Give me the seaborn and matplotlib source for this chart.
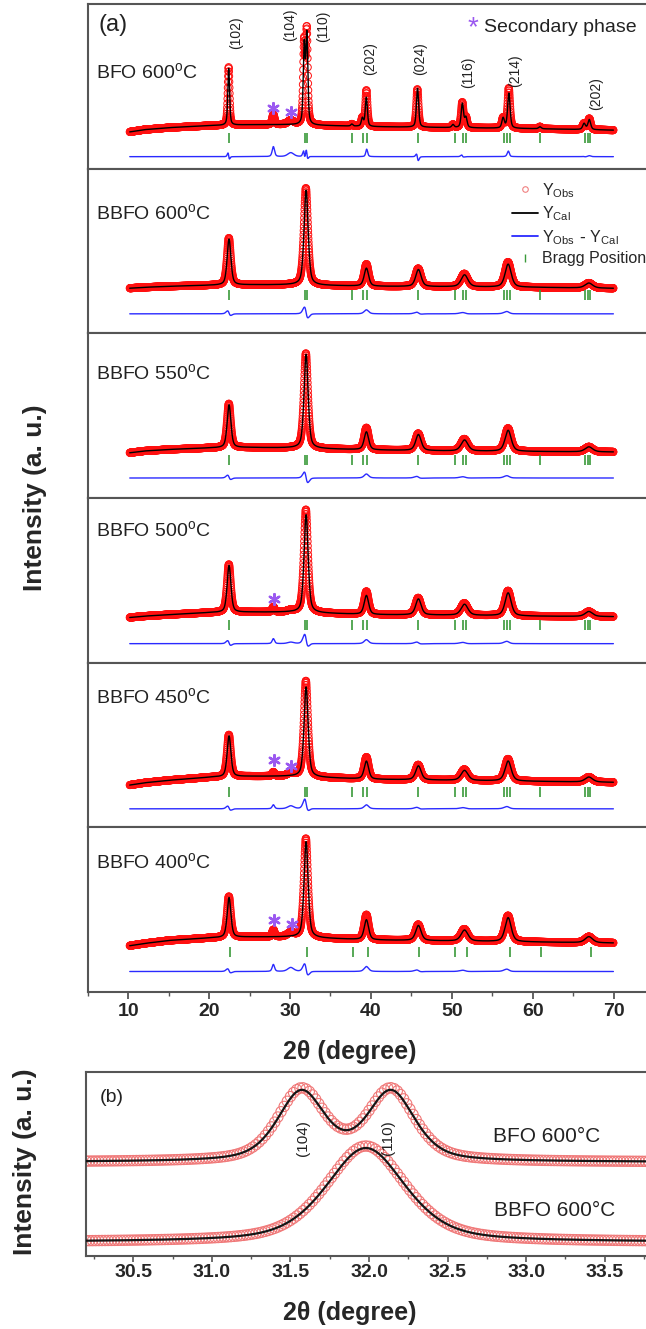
import numpy as np
import matplotlib
matplotlib.use("Agg")
import matplotlib.pyplot as plt
import seaborn as sns
from matplotlib.lines import Line2D
from matplotlib.ticker import MultipleLocator, NullLocator

# ---------------- data ----------------
SAMPLE_LABELS = ["BFO 600", "BBFO 600", "BBFO 550", "BBFO 500", "BBFO 450", "BBFO 400"]

# background knots (2theta) and levels (a.u.) of every pattern
BG_X = [10, 12, 15, 20, 25, 30, 40, 50, 60, 70]
BG_BFO600 = [-13.5, -11, -9, -7, -6, -6, -8, -9, -10, -11.5]
BG_BBFO600 = [-5, -4, -3, -2, -1.5, -1.5, -3, -3.5, -4, -5]
BG_BBFO550 = [-5, -3, -1.5, 0, 0.5, 0, -2, -3, -3.5, -4]
BG_BBFO500 = [-5, -3.5, -2, 0, 0.5, 0.5, -2, -2.5, -3.5, -4]
BG_BBFO450 = [-8, -5.5, -3, 0, 1, 1, -2, -3, -4, -5]
BG_BBFO400 = [-4, -1.5, 1.5, 4, 5, 5, 2, 1, 0, -1]

# BFO (rhombohedral, split reflections)
BFO_POS = [22.42, 31.75, 32.08, 37.65, 38.95, 39.45, 45.75, 50.15, 51.30, 51.75, 56.35, 57.05, 60.90, 66.35, 67.00]
BFO_FWHM = [0.26, 0.28, 0.28, 0.30, 0.30, 0.30, 0.32, 0.34, 0.34, 0.34, 0.36, 0.36, 0.38, 0.40, 0.40]
BFO_H_OBS = [58, 80, 92, 2, 8, 36, 38, 3, 25, 10, 10, 40, 2, 6, 11]
BFO_H_CAL = [57, 78, 88, 2, 8, 29, 39, 3, 24, 10, 10, 35, 2, 6, 10]
BFO_CAL_SHIFT = [0.01, 0.01, 0.01, 0, 0, -0.01, 0.02, 0, 0.01, 0, 0, 0.01, 0, 0.01, 0]

# Ba-doped BFO (broadened, merged reflections)
BBFO_POS = [22.45, 31.97, 39.45, 45.85, 51.55, 56.95, 66.95]
BBFO_FWHM = [0.55, 0.60, 0.65, 0.80, 1.00, 0.90, 1.10]
BBFO_CAL_SHIFT = [0.02, 0.025, 0.0, 0.03, 0.03, 0.02, 0.0]
H_OBS_BBFO600 = [47, 97, 22, 18, 13, 25, 5]
H_CAL_BBFO600 = [46, 95, 18, 17, 12, 23, 5]
H_OBS_BBFO550 = [44, 95, 22, 17, 12, 23, 5]
H_CAL_BBFO550 = [43, 94, 18, 16, 11, 21, 5]
H_OBS_BBFO500 = [48, 103, 23, 17, 12, 25, 5]
H_CAL_BBFO500 = [47, 98, 19, 16, 11, 23, 5]
H_OBS_BBFO450 = [42, 96, 22, 15, 11, 22, 5]
H_CAL_BBFO450 = [41, 90, 18, 14, 10, 20, 5]
H_OBS_BBFO400 = [41, 99, 25, 16, 12, 26, 6]
H_CAL_BBFO400 = [40, 96, 20, 15, 11, 24, 6]

# secondary-phase reflections (observed only)
SEC_POS = [27.95, 30.1]
SEC_FWHM = [0.35, 0.9]
SEC_H = [[10, 4], [0, 0], [0, 0], [5, 1.5], [4, 3], [7, 4]]

# secondary-phase star marks
STAR_X = [[27.9, 30.1], [], [], [28.0], [28.0, 30.1], [28.0, 30.2]]
STAR_Y = [[11, 7], [], [], [14], [17, 11], [22, 18]]

# Bragg positions
BRAGG_SPLIT = [22.45, 31.8, 32.05, 37.7, 39.05, 39.5, 45.8, 50.35, 51.35, 51.75,
               56.45, 56.85, 57.15, 60.9, 66.5, 66.85, 67.15]
BRAGG_SINGLE = [22.55, 32.05, 37.8, 39.6, 45.9, 50.4, 51.9, 57.2, 61.0, 67.2]
BRAGG_Y = [-19, -12, -11.5, -12, -15, -10.5]
DIFF_OFFSET = [-38, -30.5, -30, -31, -31.5, -29.5]

# Miller indices in the top panel (2theta, height)
HKL_TEXT = ["(102)", "(104)", "(110)", "(202)", "(024)", "(116)", "(214)", "(202)"]
HKL_X = [23.3, 30.0, 34.1, 39.9, 46.1, 52.0, 57.8, 67.9]
HKL_Y = [85.7, 93.7, 92.7, 59.7, 59.7, 46.7, 47.7, 24.7]
LABEL_FROM_TOP = [68, 44, 40, 32, 34, 35]

# panel (b): zoom on (104)/(110)
B_BFO_POS = [31.57, 32.14]
B_BFO_FWHM = [0.36, 0.36]
B_BFO_H_OBS = [71, 71]
B_BFO_H_CAL = [69, 69]
B_BFO_BASE = 94
B_BBFO_POS = [31.98]
B_BBFO_FWHM = [0.60]
B_BBFO_H_OBS = [96]
B_BBFO_H_CAL = [94]
B_BBFO_BASE = 14
B_HKL_TEXT = ["(104)", "(110)"]
B_HKL_X = [31.58, 32.12]
B_HKL_Y = [118, 118]

# ---------------- helpers ----------------
def pv(x, pos, h, fwhm, eta=0.5):
    d = (x - pos) / (fwhm / 2.0)
    return h * (eta / (1.0 + d * d) + (1.0 - eta) * np.exp(-np.log(2.0) * d * d))


def profile(x, pos, h, fwhm, shift=None):
    y = np.zeros_like(x)
    for i, (p, hh, w) in enumerate(zip(pos, h, fwhm)):
        s = 0.0 if shift is None else shift[i]
        y = y + pv(x, p + s, hh, w)
    return y


# ---------------- style ----------------
sns.set_theme(style="ticks")
plt.rcParams['font.family'] = ['Liberation Sans', 'DejaVu Sans']
plt.rcParams['mathtext.default'] = 'regular'

W, H = 646, 1329
fig = plt.figure(figsize=(W / 100, H / 100), dpi=100)

SPINE = "#555555"
RED = "#ff1010"
BLUE = "#2a2aff"
GREEN = "#3a9a3a"
PURPLE = "#9b59f0"

A_LEFT, A_W = 87.7, 566.3
A_TOP, A_BOT = 4.0, 992.0
PH = (A_BOT - A_TOP) / 6

x_a = np.arange(10.2, 70.0, 0.02)
bgs = [BG_BFO600, BG_BBFO600, BG_BBFO550, BG_BBFO500, BG_BBFO450, BG_BBFO400]
h_obs = [BFO_H_OBS, H_OBS_BBFO600, H_OBS_BBFO550, H_OBS_BBFO500, H_OBS_BBFO450, H_OBS_BBFO400]
h_cal = [BFO_H_CAL, H_CAL_BBFO600, H_CAL_BBFO550, H_CAL_BBFO500, H_CAL_BBFO450, H_CAL_BBFO400]

axes = []
for i in range(6):
    top = A_TOP + i * PH
    ax = fig.add_axes([A_LEFT / W, 1 - (top + PH) / H, A_W / W, PH / H])
    axes.append(ax)
    bg = np.interp(x_a, BG_X, bgs[i])
    if i == 0:
        pos, fw, sh = BFO_POS, BFO_FWHM, BFO_CAL_SHIFT
    else:
        pos, fw, sh = BBFO_POS, BBFO_FWHM, BBFO_CAL_SHIFT
    obs = bg + profile(x_a, pos, h_obs[i], fw) + profile(x_a, SEC_POS, SEC_H[i], SEC_FWHM)
    cal = bg + profile(x_a, pos, h_cal[i], fw, sh)
    diff = obs - cal + DIFF_OFFSET[i]

    sns.scatterplot(x=x_a, y=obs, ax=ax, marker='o', s=26, legend=False, zorder=2)
    coll = ax.collections[-1]
    coll.set_facecolor('none')
    coll.set_edgecolor(RED)
    coll.set_linewidth(0.7)
    sns.lineplot(x=x_a, y=cal, ax=ax, color='black', lw=1.0, estimator=None, sort=False, zorder=3)
    sns.lineplot(x=x_a, y=diff, ax=ax, color=BLUE, lw=1.0, estimator=None, sort=False, zorder=3)
    bragg = BRAGG_SINGLE if i == 5 else BRAGG_SPLIT
    sns.scatterplot(x=bragg, y=[BRAGG_Y[i]] * len(bragg), ax=ax, marker='|', s=42, legend=False, zorder=3)
    bc = ax.collections[-1]
    bc.set_color(GREEN)
    bc.set_linewidth(1.2)
    if STAR_X[i]:
        sns.scatterplot(x=STAR_X[i], y=STAR_Y[i], ax=ax, marker=(6, 2, 0), s=60, legend=False, zorder=4)
        sc = ax.collections[-1]
        sc.set_color(PURPLE)
        sc.set_linewidth(1.7)

    ax.set_xlim(5, 75)
    ax.set_ylim(-50, PH - 50)
    ax.yaxis.set_major_locator(NullLocator())
    ax.set_xlabel('')
    ax.set_ylabel('')
    for sp in ax.spines.values():
        sp.set_color(SPINE)
        sp.set_linewidth(1.5)
    if i < 5:
        ax.tick_params(axis='x', bottom=False, labelbottom=False, which='both')
    else:
        ax.xaxis.set_major_locator(MultipleLocator(10))
        ax.xaxis.set_minor_locator(MultipleLocator(5))
        ax.set_xticks([10, 20, 30, 40, 50, 60, 70])
        ax.tick_params(axis='x', which='major', direction='out', length=5, width=1.3,
                       color=SPINE, labelsize=14, pad=3)
        ax.tick_params(axis='x', which='minor', direction='out', length=3, width=1.0, color=SPINE)
        for t in ax.get_xticklabels():
            t.set_fontweight('bold')
    ax.text((96 - A_LEFT) / A_W, 1 - LABEL_FROM_TOP[i] / PH,
            SAMPLE_LABELS[i] + "$^{o}$C", transform=ax.transAxes,
            ha='left', va='center', fontsize=14, color='#222222')

# top panel annotations
ax0 = axes[0]
ax0.text((99 - A_LEFT) / A_W, 1 - 21 / PH, "(a)", transform=ax0.transAxes,
         ha='left', va='center', fontsize=17, color='#222222')
for t, xx, yy in zip(HKL_TEXT, HKL_X, HKL_Y):
    ax0.text(xx, yy, t, rotation=90, ha='center', va='center', fontsize=10, color='#222222')
ax0.text((473 - A_LEFT) / A_W, 1 - 24 / PH, "*", transform=ax0.transAxes,
         ha='center', va='center', fontsize=20, color=PURPLE)
ax0.text((484 - A_LEFT) / A_W, 1 - 23 / PH, "Secondary phase", transform=ax0.transAxes,
         ha='left', va='center', fontsize=14, color='#222222')

# legend in second panel
handles = [
    Line2D([], [], ls='none', marker='o', mfc='none', mec='#f08080', ms=4, mew=0.8),
    Line2D([], [], color='black', lw=1.3),
    Line2D([], [], color=BLUE, lw=1.3),
    Line2D([], [], ls='none', marker='|', color=GREEN, ms=6, mew=1.0),
]
labels = [r'$\mathregular{Y_{Obs}}$', r'$\mathregular{Y_{Cal}}$',
          r'$\mathregular{Y_{Obs}\ \text{-}\ Y_{Cal}}$', 'Bragg Position']
axes[1].legend(handles, labels, loc='upper left',
               bbox_to_anchor=((512 - A_LEFT) / A_W, 1 - (181 - (A_TOP + PH)) / PH),
               frameon=False, fontsize=11.5, handlelength=1.6, handletextpad=0.3,
               labelspacing=0.3, borderpad=0, borderaxespad=0)

fig.text(35 / W, 1 - 498 / H, "Intensity (a. u.)", rotation=90, ha='center', va='center',
         fontsize=19, fontweight='bold')
fig.text(350 / W, 1 - 1052 / H, "2\u03b8 (degree)", ha='center', va='center',
         fontsize=18, fontweight='bold')

# ---------------- panel (b) ----------------
B_LEFT, B_W = 86.2, 565.6
B_TOP, B_BOT = 1072.0, 1256.0
axb = fig.add_axes([B_LEFT / W, 1 - B_BOT / H, B_W / W, (B_BOT - B_TOP) / H])
x_b = np.arange(30.2, 33.81, 0.02)
x_bl = np.arange(30.2, 33.8, 0.005)
for base, pos, fw, ho, hc in [(B_BFO_BASE, B_BFO_POS, B_BFO_FWHM, B_BFO_H_OBS, B_BFO_H_CAL),
                              (B_BBFO_BASE, B_BBFO_POS, B_BBFO_FWHM, B_BBFO_H_OBS, B_BBFO_H_CAL)]:
    yo = base + profile(x_b, pos, ho, fw)
    yc = base + profile(x_bl, pos, hc, fw)
    sns.scatterplot(x=x_b, y=yo, ax=axb, marker='o', s=55, legend=False, zorder=2)
    c = axb.collections[-1]
    c.set_facecolor('none')
    c.set_edgecolor('#f07878')
    c.set_linewidth(0.8)
    sns.lineplot(x=x_bl, y=yc, ax=axb, color='#151515', lw=1.6, estimator=None, sort=False, zorder=3)

axb.set_xlim(30.2, 33.8)
axb.set_ylim(0, B_BOT - B_TOP)
axb.yaxis.set_major_locator(NullLocator())
axb.xaxis.set_major_locator(MultipleLocator(0.5))
axb.xaxis.set_minor_locator(MultipleLocator(0.25))
axb.set_xticks([30.5, 31.0, 31.5, 32.0, 32.5, 33.0, 33.5])
axb.set_xticklabels(["30.5", "31.0", "31.5", "32.0", "32.5", "33.0", "33.5"])
axb.tick_params(axis='x', which='major', direction='out', length=4, width=1.2,
                color=SPINE, labelsize=14, pad=2)
axb.tick_params(axis='x', which='minor', direction='out', length=2.5, width=1.0, color=SPINE)
for t in axb.get_xticklabels():
    t.set_fontweight('bold')
axb.set_xlabel('')
axb.set_ylabel('')
for sp in axb.spines.values():
    sp.set_color(SPINE)
    sp.set_linewidth(1.5)
for t, xx, yy in zip(B_HKL_TEXT, B_HKL_X, B_HKL_Y):
    axb.text(xx, yy, t, rotation=90, ha='center', va='center', fontsize=11, color='#222222')
axb.text((100 - B_LEFT) / B_W, 1 - 25 / (B_BOT - B_TOP), "(b)", transform=axb.transAxes,
         ha='left', va='center', fontsize=14, color='#222222')
axb.text((493 - B_LEFT) / B_W, 1 - 65 / (B_BOT - B_TOP), "BFO 600\u00b0C", transform=axb.transAxes,
         ha='left', va='center', fontsize=15, color='#222222')
axb.text((494 - B_LEFT) / B_W, 1 - 139 / (B_BOT - B_TOP), "BBFO 600\u00b0C", transform=axb.transAxes,
         ha='left', va='center', fontsize=15, color='#222222')

fig.text(25 / W, 1 - 1162 / H, "Intensity (a. u.)", rotation=90, ha='center', va='center',
         fontsize=19, fontweight='bold')
fig.text(350 / W, 1 - 1313 / H, "2\u03b8 (degree)", ha='center', va='center',
         fontsize=18, fontweight='bold')

fig.savefig("out.png", dpi=100)
